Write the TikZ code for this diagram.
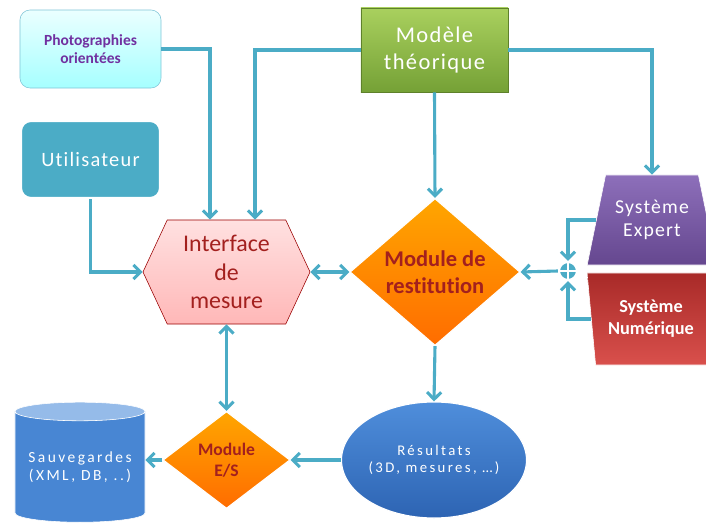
\documentclass[tikz,border=0pt]{standalone}
\usepackage{fontspec}
\setmainfont{Carlito}[Ligatures=NoCommon]
\newfontfamily\wide{Carlito}[LetterSpace=6, Ligatures=NoCommon]
\newfontfamily\wider{Carlito}[LetterSpace=16, Ligatures=NoCommon]
\usetikzlibrary{calc,arrows.meta,shapes.geometric,shapes.symbols}
\definecolor{linkblue}{HTML}{4BACC6}
\definecolor{darkred}{HTML}{A3201E}
\definecolor{photopurple}{HTML}{7030A0}
\definecolor{greentop}{HTML}{A9D05E}
\definecolor{greenbot}{HTML}{75A136}
\definecolor{purpletop}{HTML}{8D6FBA}
\definecolor{purplebot}{HTML}{65478F}
\definecolor{redtop}{HTML}{A82A28}
\definecolor{redbot}{HTML}{D9504C}
\definecolor{bluetop}{HTML}{4F8EDB}
\definecolor{bluebot}{HTML}{2D64B3}
\def\fs#1{\fontsize{#1}{1.2\dimexpr#1pt\relax}\selectfont}
\tikzset{
	link/.style={draw=linkblue, line width=2.2pt, -{Straight Barb[length=5pt,width=10pt]}},
	twolink/.style={link, {Straight Barb[length=5pt,width=10pt]}-{Straight Barb[length=5pt,width=10pt]}},
	roundbox/.style={rectangle, rounded corners=0.25cm, inner sep=0pt, align=center},
	orangediamond/.style={diamond, inner sep=0pt, align=center, draw=white, line width=0.8pt, top color=orange!70!yellow, bottom color=orange!85!red},
	bluefill/.style={draw=white, line width=0.8pt, top color=bluetop, bottom color=bluebot}
}

\begin{document}
\begin{tikzpicture}[x=0.025cm, y=-0.025cm]
		%%%%% START %%%%%
		\useasboundingbox (0, 0) rectangle (706, 525);
		
		\node[roundbox, minimum width=3.525cm, minimum height=1.95cm, draw=linkblue!70, top color=cyan!8, bottom color=cyan!35, font=\fs{11}\bfseries, text=photopurple] (photo) at (90.5, 49) {Photographies\\orientées};
		\node[roundbox, minimum width=3.475cm, minimum height=1.925cm, draw=white, line width=1.5pt, fill=linkblue, font=\wide\fs{14.5}, text=white] (user) at (90.5, 159.5) {Utilisateur};
		\node[rectangle, inner sep=0pt, minimum width=3.675cm, minimum height=2.1cm, align=center, draw=greenbot!80!black, top color=greentop, bottom color=greenbot, font=\wide\fs{16}, text=white] (model) at (434.5, 50) {Modèle\\théorique};
		
		\node[signal, signal to=east and west, signal pointer angle=130, inner sep=0pt, minimum width=4.175cm, minimum height=2.6cm, align=center, draw=red!60!black, top color=red!12, bottom color=red!28, font=\fs{17}, text=darkred] (iface) at (226.5, 272) {Interface\\de\\mesure};
		\node[orangediamond, minimum width=4.25cm, minimum height=3.675cm, font=\fs{16}\bfseries, text=darkred] (resti) at (435, 272) {Module de\\restitution};
		
		\node[trapezium, trapezium stretches=true, trapezium left angle=70, trapezium right angle=70, inner sep=0pt, minimum width=3.25cm, minimum height=2.25cm, align=center, draw=white, top color=purpletop, bottom color=purplebot, font=\wide\fs{14}, text=white] (expert) at (652, 220) {Système\\Expert};
		\node[trapezium, trapezium stretches=true, trapezium left angle=100, trapezium right angle=100, inner sep=0pt, minimum width=3.2cm, minimum height=2.3cm, align=center, draw=white, top color=redtop, bottom color=redbot, font=\fs{13}\bfseries, text=white] (numer) at (651, 319) {Système\\Numérique};
		
		\node[circle, fill=linkblue, draw=white, line width=1.5pt, minimum size=0.45cm, inner sep=0pt] (sum) at (568, 271) {};
		\draw[white, line width=1.5pt] (sum.north) -- (sum.south) (sum.west) -- (sum.east);
		
		\node[ellipse, bluefill, inner sep=0pt, minimum width=3.75cm, minimum height=2.9cm, align=center, font=\wider\fs{10.5}, text=white] (res) at (434, 460) {Résultats\\(3D, mesures, …)};
		\node[orangediamond, minimum width=3.175cm, minimum height=2.425cm, font=\fs{12.5}\bfseries, text=darkred] (io) at (226.5, 460) {Module\\E/S};
		\node[cylinder, shape border rotate=90, aspect=0.18, inner sep=0pt, minimum width=3.25cm, minimum height=3.0cm, align=center, draw=white, cylinder uses custom fill, cylinder body fill=bluetop!80!bluebot, cylinder end fill=bluetop!60!white, font=\wider\fs{11}, text=white] (save) at (80, 467) {Sauvegardes\\(XML, DB, ..)};
		
		\draw[link] (photo.east) -| ($(iface.north)+(-16.5, 0)$);
		\draw[link] (model.west) -| ($(iface.north)+(28.5, 0)$);
		\draw[link] (model.east) -| (expert.north);
		\draw[link] (model.south) -- (resti.north);
		\draw[link] (user.south) |- (iface.west);
		\draw[twolink] (iface.east) -- (resti.west);
		\draw[link] (expert.west) -| (sum.north);
		\draw[link] (numer.west) -| (sum.south);
		\draw[link] (sum.west) -- (resti.east);
		\draw[twolink] (iface.south) -- (io.north);
		\draw[link] (resti.south) -- (res.north);
		\draw[link] (res.west) -- (io.east);
		\draw[link] (io.west) -- (io.west -| save.east);
		
		%%%%% END %%%%%
	\end{tikzpicture}
\end{document}
